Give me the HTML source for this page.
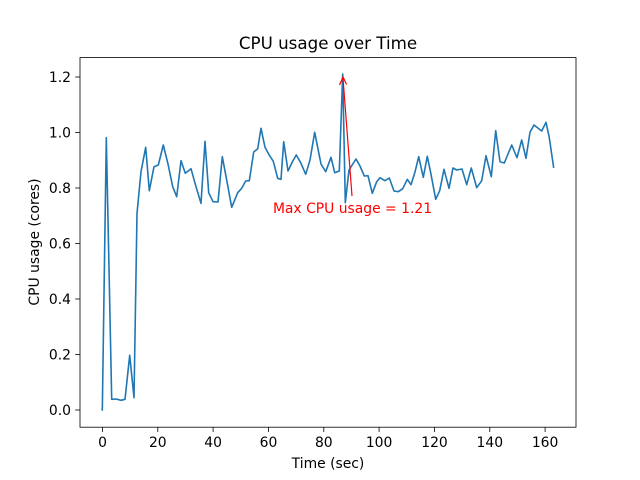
<!DOCTYPE html>
<html><head><meta charset="utf-8"><style>body{margin:0;background:#fff}svg{display:block}text{font-family:"DejaVu Sans","Liberation Sans",sans-serif}</style></head>
<body>
<svg width="640" height="480" viewBox="0 0 640 480" xmlns="http://www.w3.org/2000/svg">
<rect width="640" height="480" fill="#fff"/>
<text x="328" y="49" font-size="16.7" text-anchor="middle">CPU usage over Time</text>
<polyline fill="none" stroke="#1f77b4" stroke-width="1.6" stroke-linejoin="round" points="102.3,410.7 106.3,137.7 111.7,399.3 116.3,399 121,400.3 125,399.3 129.7,355.3 134,397.7 137,213.3 141,171.7 145.7,147.3 149.3,190.7 154,166.7 158.3,165 163.3,145 168,164 172.7,186.7 176.7,196.7 181,160.7 185.3,173.3 191,168.7 196,186.7 201,203.3 205,141.3 208.7,192.7 213,201.7 218,202 222.3,156.7 227,181.7 231.7,207.3 237.7,192.7 241.7,188.3 245.7,181 249.3,180.7 253.7,152 257.7,148.7 261,128.3 265,147.3 269,154.7 273.3,161.3 277.7,178.3 281,179.3 283.7,141.7 288,171 292.3,162 296.3,155 301,163.3 305.7,174.3 310,160 314.7,132.3 321,164 325.7,171.7 331,157.3 334.7,172.7 339.3,171 342.7,74 345.3,202.7 349,170 356,159 360,166 364.3,176 368,175.7 372.3,193.3 376.7,181.7 380,177.7 385,180.7 389.3,178 394,191 398.3,191.7 402.7,188.7 407.3,179.3 411,184.7 415,172 418.7,156.7 423.3,177.3 427.3,156.3 431,174.3 435.7,199.3 439.7,190.7 444,169.3 449,188.3 453,168 456.7,170 462,169 466.7,184.7 471.3,168 476.7,187.7 481.7,180.7 486,155.7 491.3,176.7 495.7,130.7 500,161.7 504.3,163 511.7,145 517,157.7 521.7,140 526,158.3 530,132.3 534,125 541.7,131 546,122.3 549.3,137.7 553.7,168"/>
<line x1="352" y1="196" x2="343" y2="78" stroke="red" stroke-width="1.2"/>
<polyline points="339.5,85 343,77 346.5,84.5" fill="none" stroke="red" stroke-width="1.2"/>
<text x="352.5" y="213" font-size="13.9" fill="red" text-anchor="middle">Max CPU usage = 1.21</text>
<rect x="80" y="57.6" width="496" height="369.6" fill="none" stroke="#000" stroke-width="0.8"/>
<g stroke="#000" stroke-width="0.8">
<line x1="102.5" y1="427.2" x2="102.5" y2="432"/><line x1="157.8" y1="427.2" x2="157.8" y2="432"/><line x1="213.1" y1="427.2" x2="213.1" y2="432"/><line x1="268.5" y1="427.2" x2="268.5" y2="432"/><line x1="323.8" y1="427.2" x2="323.8" y2="432"/><line x1="379.1" y1="427.2" x2="379.1" y2="432"/><line x1="434.5" y1="427.2" x2="434.5" y2="432"/><line x1="489.8" y1="427.2" x2="489.8" y2="432"/><line x1="545.1" y1="427.2" x2="545.1" y2="432"/>
<line x1="75.2" y1="410" x2="80" y2="410"/><line x1="75.2" y1="354.5" x2="80" y2="354.5"/><line x1="75.2" y1="299" x2="80" y2="299"/><line x1="75.2" y1="243.5" x2="80" y2="243.5"/><line x1="75.2" y1="188" x2="80" y2="188"/><line x1="75.2" y1="132.5" x2="80" y2="132.5"/><line x1="75.2" y1="77" x2="80" y2="77"/>
</g>
<g font-size="13.9" text-anchor="middle">
<text x="102.5" y="447">0</text><text x="157.8" y="447">20</text><text x="213.1" y="447">40</text><text x="268.5" y="447">60</text><text x="323.8" y="447">80</text><text x="379.1" y="447">100</text><text x="434.5" y="447">120</text><text x="489.8" y="447">140</text><text x="545.1" y="447">160</text>
</g>
<g font-size="13.9" text-anchor="end">
<text x="71" y="415">0.0</text><text x="71" y="359.5">0.2</text><text x="71" y="304">0.4</text><text x="71" y="248.5">0.6</text><text x="71" y="193">0.8</text><text x="71" y="137.5">1.0</text><text x="71" y="82">1.2</text>
</g>
<text x="328" y="468" font-size="13.9" text-anchor="middle">Time (sec)</text>
<text transform="translate(39,242) rotate(-90)" font-size="13.9" text-anchor="middle">CPU usage (cores)</text>
</svg>
</body></html>
